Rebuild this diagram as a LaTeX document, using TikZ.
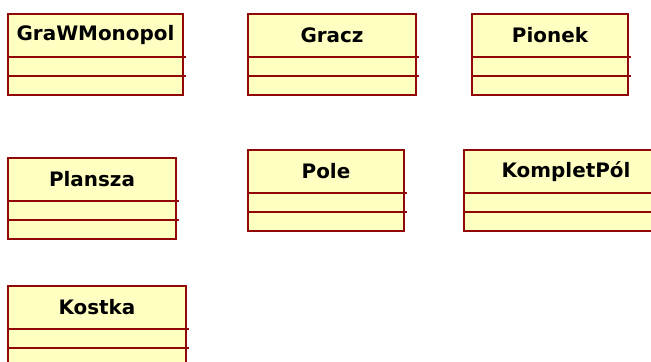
\documentclass[tikz,border=0pt]{standalone}
\usepackage{fontspec}
\setmainfont{DejaVu Sans}
\definecolor{umlfill}{RGB}{255,255,194}
\definecolor{umldraw}{RGB}{145,8,8}
\usetikzlibrary{positioning}

\begin{document}
\begin{tikzpicture}[x=0.03cm, y=-0.03cm]
    \tikzset{classname/.style={rectangle, draw=umldraw, fill=umlfill, line width=1.8pt,
      minimum height=43*0.03cm, inner sep=0pt, outer sep=0pt, text centered,
      font=\fontsize{17}{20}\selectfont\bfseries}}
    \tikzset{classpart/.style={rectangle, draw=umldraw, fill=umlfill, line width=1.8pt,
      minimum height=19*0.03cm, inner sep=0pt, outer sep=0pt}}
    \tikzset{divider/.style={draw=umldraw, line width=1.8pt}}

    % page frame (the picture is cut at its right and lower edges)
    \clip (0,0) rectangle (651,361);

    % Classes: name / left / top / width / label
    \foreach \n/\x/\y/\w/\t in {gra/8/14/175/GraWMonopol, gracz/248/14/168/Gracz,
        pionek/472/14/156/Pionek, plansza/8/158/168/Plansza, pole/248/150/156/Pole,
        komplet/464/150/204/KompletPól, kostka/8/286/178/Kostka}{
      \node[classname, minimum width=\w*0.03cm, anchor=north west] (\n) at (\x,\y) {\t};
      \node[classpart, minimum width=\w*0.03cm, below=0pt of \n] (\n-attr) {};
      \node[classpart, minimum width=\w*0.03cm, below=0pt of \n-attr] (\n-ops) {};
      \draw[divider] (\n.south east) -- ++(3,0);
      \draw[divider] (\n-attr.south east) -- ++(3,0);
    }
  \end{tikzpicture}
\end{document}
